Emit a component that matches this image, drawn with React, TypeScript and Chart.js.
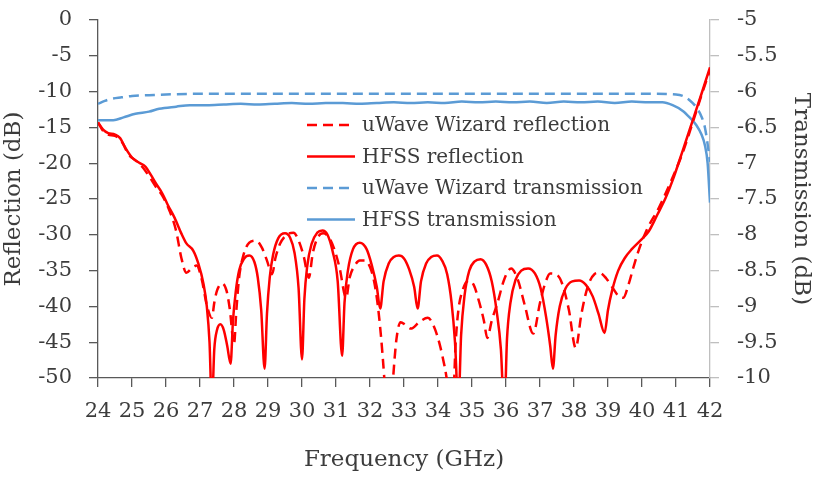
import React, { useEffect, useRef } from 'react';
import { Chart, registerables } from 'chart.js';

Chart.register(...registerables);

// ---- Tick labels ----
const xTickValues = [24, 25, 26, 27, 28, 29, 30, 31, 32, 33, 34, 35, 36, 37, 38, 39, 40, 41, 42];
const leftTickValues = [0, -5, -10, -15, -20, -25, -30, -35, -40, -45, -50];
const rightTickValues = [-5, -5.5, -6, -6.5, -7, -7.5, -8, -8.5, -9, -9.5, -10];

// ---- Series labels ----
const seriesLabels = [
  'uWave Wizard reflection',
  'HFSS reflection',
  'uWave Wizard transmission',
  'HFSS transmission',
];

// ---- uWave Wizard reflection (dB, left axis) ----
const uwReflFreq = [
  24.0, 24.15, 24.3, 24.5, 24.7, 24.9, 25.1, 25.3, 25.5, 25.7, 25.9, 26.1, 26.3, 26.45, 26.6, 26.75, 26.9,
  27.05, 27.2, 27.35, 27.42, 27.5, 27.65, 27.78, 27.88, 28.0, 28.07, 28.15, 28.28, 28.45, 28.65, 28.82, 28.97,
  29.12, 29.22, 29.35, 29.55, 29.75, 29.9, 30.05, 30.2, 30.32, 30.45, 30.62, 30.8, 30.95, 31.1, 31.3, 31.4,
  31.55, 31.7, 31.85, 32.0, 32.12, 32.22, 32.32, 32.42, 32.5, 32.6, 32.68, 32.78, 32.9, 33.05, 33.2, 33.45,
  33.7, 33.88, 34.05, 34.2, 34.35, 34.45, 34.52, 34.6, 34.72, 34.9, 35.05, 35.2, 35.35, 35.45, 35.58, 35.75,
  35.95, 36.15, 36.35, 36.55, 36.8, 37.0, 37.15, 37.3, 37.5, 37.65, 37.85, 38.05, 38.22, 38.4, 38.6, 38.75,
  38.95, 39.15, 39.3, 39.45, 39.6, 39.75, 39.9, 40.15, 40.5, 40.9, 41.2, 41.5, 41.75, 42.0,
];
const uwReflDb = [
  -14.3, -15.5, -16.0, -16.2, -17.0, -18.8, -19.6, -20.5, -21.8, -23.3, -24.6, -26.6, -29.5, -33.2, -35.3, -34.7, -34.3,
  -36.2, -39.8, -41.6, -39.5, -37.8, -36.8, -37.8, -40.5, -45.3, -40.5, -36.0, -32.8, -31.1, -30.8, -31.8, -33.6,
  -35.5, -33.2, -31.3, -30.0, -29.7, -30.8, -33.0, -36.0, -32.5, -30.5, -29.8, -30.4, -32.0, -34.5, -38.8, -36.0,
  -34.3, -33.6, -33.6, -34.5, -36.5, -39.5, -44.0, -50.0, -56.0, -56.0, -50.0, -44.5, -42.2, -42.6, -43.1, -42.2,
  -41.6, -42.8, -45.3, -48.5, -52.0, -52.0, -45.0, -40.5, -37.8, -36.4, -37.0, -39.2, -42.0, -44.4, -42.0, -39.5,
  -36.2, -34.7, -36.3, -39.8, -43.8, -39.5, -36.8, -35.4, -35.6, -36.8, -40.5, -45.8, -41.0, -37.3, -35.5, -35.3,
  -36.1, -37.5, -38.5, -38.8, -37.0, -34.5, -32.2, -29.2, -26.2, -22.0, -18.5, -14.2, -10.5, -7.0,
];

// ---- HFSS reflection (dB, left axis) ----
const hfssReflFreq = [
  24.0, 24.15, 24.3, 24.5, 24.65, 24.8, 25.0, 25.2, 25.4, 25.55, 25.7, 25.9, 26.05, 26.25, 26.45, 26.6, 26.8,
  26.95, 27.1, 27.2, 27.28, 27.35, 27.42, 27.5, 27.6, 27.7, 27.8, 27.9, 27.97, 28.05, 28.15, 28.3, 28.45, 28.6,
  28.7, 28.8, 28.9, 28.97, 29.05, 29.15, 29.3, 29.5, 29.65, 29.78, 29.9, 30.0, 30.07, 30.15, 30.28, 30.45, 30.6,
  30.75, 30.9, 31.05, 31.18, 31.25, 31.35, 31.5, 31.7, 31.9, 32.05, 32.2, 32.3, 32.4, 32.55, 32.7, 32.85, 33.0,
  33.15, 33.3, 33.4, 33.5, 33.65, 33.8, 33.97, 34.12, 34.27, 34.4, 34.5, 34.6, 34.68, 34.78, 34.92, 35.08, 35.25,
  35.42, 35.58, 35.72, 35.85, 35.95, 36.03, 36.13, 36.28, 36.45, 36.65, 36.85, 37.02, 37.18, 37.3, 37.38, 37.46,
  37.58, 37.75, 37.95, 38.15, 38.35, 38.55, 38.72, 38.9, 39.0, 39.12, 39.3, 39.5, 39.7, 39.95, 40.2, 40.45, 40.7,
  40.9, 41.2, 41.5, 41.75, 42.0,
];
const hfssReflDb = [
  -14.3, -15.3, -15.8, -16.0, -16.5, -17.8, -19.2, -19.9, -20.5, -21.6, -22.8, -24.3, -25.8, -27.6, -29.8, -31.2, -32.2,
  -34.0, -36.8, -40.0, -45.0, -54.0, -46.0, -43.3, -42.5, -43.3, -45.5, -48.0, -42.0, -38.0, -35.0, -33.3, -32.9, -33.8,
  -36.0, -40.5, -48.7, -41.0, -36.0, -32.8, -30.5, -29.8, -30.4, -32.5, -37.5, -47.4, -39.0, -34.5, -31.3, -29.7, -29.4,
  -30.0, -32.3, -36.5, -46.9, -39.5, -35.0, -32.0, -31.1, -32.0, -34.2, -37.3, -40.3, -36.5, -34.0, -33.1, -32.9, -33.3,
  -34.8, -37.3, -40.3, -36.5, -34.0, -33.1, -32.9, -33.6, -35.5, -39.5, -45.0, -54.0, -44.0, -38.5, -35.0, -33.7, -33.4,
  -34.2, -36.5, -40.5, -46.0, -55.0, -44.5, -39.5, -36.3, -35.0, -34.7, -35.4, -37.5, -41.5, -45.5, -48.7, -44.0,
  -40.0, -37.5, -36.5, -36.4, -37.0, -38.6, -41.0, -43.7, -40.5, -37.8, -35.0, -33.2, -32.0, -30.8, -29.5, -27.2, -24.8,
  -22.4, -18.2, -13.9, -10.3, -6.6,
];

// ---- uWave Wizard transmission (dB, right axis) ----
const uwTransFreq = [
  24.0, 24.2, 24.4, 24.7, 25.0, 25.5, 26.0, 27.0, 28.0, 30.0, 32.0, 34.0, 36.0, 38.0, 40.0, 41.0, 41.2, 41.4,
  41.6, 41.75, 41.85, 41.92, 42.0,
];
const uwTransDb = [
  -6.17, -6.13, -6.1, -6.08, -6.06, -6.05, -6.04, -6.03, -6.03, -6.03, -6.03, -6.03, -6.03, -6.03, -6.03, -6.04, -6.06, -6.12,
  -6.22, -6.35, -6.5, -6.7, -6.98,
];

// ---- HFSS transmission (dB, right axis) ----
const hfssTransFreq = [
  24.0, 24.2, 24.45, 24.75, 25.1, 25.5, 25.8, 26.3, 26.7, 27.2, 27.7, 28.2, 28.7, 29.2, 29.7, 30.2, 30.7, 31.2,
  31.7, 32.2, 32.7, 33.2, 33.7, 34.2, 34.7, 35.2, 35.7, 36.2, 36.7, 37.2, 37.7, 38.2, 38.7, 39.2, 39.7, 40.2,
  40.6, 40.9, 41.2, 41.4, 41.6, 41.75, 41.85, 41.93, 42.0,
];
const hfssTransDb = [
  -6.4, -6.4, -6.4, -6.36, -6.31, -6.28, -6.24, -6.21, -6.19, -6.19, -6.18, -6.17, -6.18, -6.17, -6.16, -6.17, -6.16, -6.16,
  -6.17, -6.16, -6.15, -6.16, -6.15, -6.16, -6.14, -6.15, -6.14, -6.15, -6.14, -6.16, -6.14, -6.15, -6.14, -6.16, -6.14, -6.15,
  -6.15, -6.19, -6.27, -6.36, -6.47, -6.6, -6.75, -7.0, -7.55,
];

const RED = '#ff0000';
const BLUE = '#5b9bd5';
const TEXT = '#3c3c3c';
const AXIS_DARK = '#595959';
const AXIS_LIGHT = '#bfbfbf';
const FONT = '"DejaVu Serif", serif';

const toPoints = (xs: number[], ys: number[]) => xs.map((x, i) => ({ x, y: ys[i] }));

const noPad = (s: any) => {
  s.paddingTop = 0;
  s.paddingBottom = 0;
  s.paddingLeft = 0;
  s.paddingRight = 0;
};

const insideLegend = {
  id: 'insideLegend',
  afterDatasetsDraw(chart: any) {
    const { ctx, chartArea } = chart;
    ctx.save();
    chart.data.datasets.forEach((ds: any, i: number) => {
      const y = chartArea.top + 105 + i * 31.5;
      const x0 = chartArea.left + 209;
      ctx.strokeStyle = ds.borderColor;
      ctx.lineWidth = ds.borderWidth;
      ctx.setLineDash(ds.borderDash || []);
      ctx.beginPath();
      ctx.moveTo(x0, y);
      ctx.lineTo(x0 + 48, y);
      ctx.stroke();
      ctx.setLineDash([]);
      ctx.fillStyle = TEXT;
      ctx.font = `20px ${FONT}`;
      ctx.textBaseline = 'middle';
      ctx.textAlign = 'left';
      ctx.fillText(ds.label, x0 + 55, y + 1);
    });
    ctx.restore();
  },
};

export default function App() {
  const canvasRef = useRef<HTMLCanvasElement | null>(null);

  useEffect(() => {
    const canvas = canvasRef.current;
    if (!canvas) return;
    Chart.defaults.font.family = FONT;
    Chart.defaults.color = TEXT;

    const chart = new Chart(canvas, {
      type: 'line',
      data: {
        datasets: [
          {
            label: seriesLabels[0],
            data: toPoints(uwReflFreq, uwReflDb),
            borderColor: RED,
            borderWidth: 2.5,
            borderDash: [10, 6],
            yAxisID: 'y',
          },
          {
            label: seriesLabels[1],
            data: toPoints(hfssReflFreq, hfssReflDb),
            borderColor: RED,
            borderWidth: 2.5,
            yAxisID: 'y',
          },
          {
            label: seriesLabels[2],
            data: toPoints(uwTransFreq, uwTransDb),
            borderColor: BLUE,
            borderWidth: 2.5,
            borderDash: [10, 6],
            yAxisID: 'y2',
          },
          {
            label: seriesLabels[3],
            data: toPoints(hfssTransFreq, hfssTransDb),
            borderColor: BLUE,
            borderWidth: 2.5,
            yAxisID: 'y2',
          },
        ] as any,
      },
      options: {
        responsive: false,
        animation: false,
        devicePixelRatio: 1,
        layout: { padding: { top: 20, left: 0, right: 0, bottom: 0 } },
        elements: {
          point: { radius: 0, hoverRadius: 0 },
          line: { cubicInterpolationMode: 'monotone', fill: false },
        },
        plugins: {
          legend: { display: false },
          tooltip: { enabled: false },
        },
        scales: {
          x: {
            type: 'linear',
            min: 24,
            max: 42,
            afterBuildTicks: (s: any) => {
              s.ticks = xTickValues.map((v) => ({ value: v }));
            },
            afterFit: (s: any) => {
              s.height = 100;
              noPad(s);
            },
            ticks: {
              font: { size: 21 },
              color: TEXT,
              padding: 12,
              maxRotation: 0,
              autoSkip: false,
              callback: (v: any) => String(v),
            },
            grid: {
              drawOnChartArea: false,
              drawTicks: true,
              tickLength: 9,
              color: AXIS_DARK,
              lineWidth: 1.3,
            },
            border: { display: true, color: AXIS_DARK, width: 1.3 },
            title: {
              display: true,
              text: 'Frequency (GHz)',
              font: { size: 23 },
              color: TEXT,
              padding: { top: 0, bottom: 4 },
            },
          },
          y: {
            type: 'linear',
            position: 'left',
            min: -50,
            max: 0,
            afterBuildTicks: (s: any) => {
              s.ticks = leftTickValues.map((v) => ({ value: v }));
            },
            afterFit: (s: any) => {
              s.width = 98;
              noPad(s);
            },
            ticks: {
              font: { size: 21 },
              color: TEXT,
              padding: 17,
              autoSkip: false,
              callback: (v: any) => String(v),
            },
            grid: {
              drawOnChartArea: false,
              drawTicks: true,
              tickLength: 9,
              color: AXIS_DARK,
              lineWidth: 1.3,
            },
            border: { display: true, color: AXIS_DARK, width: 1.3 },
            title: {
              display: true,
              text: 'Reflection (dB)',
              font: { size: 23 },
              color: TEXT,
              padding: { top: 0, bottom: 0 },
            },
          },
          y2: {
            type: 'linear',
            position: 'right',
            min: -10,
            max: -5,
            afterBuildTicks: (s: any) => {
              s.ticks = rightTickValues.map((v) => ({ value: v }));
            },
            afterFit: (s: any) => {
              s.width = 105;
              noPad(s);
            },
            ticks: {
              font: { size: 21 },
              color: TEXT,
              padding: 18,
              autoSkip: false,
              callback: (v: any) => String(v),
            },
            grid: {
              drawOnChartArea: false,
              drawTicks: true,
              tickLength: 9,
              color: AXIS_LIGHT,
              lineWidth: 1.3,
            },
            border: { display: true, color: AXIS_LIGHT, width: 1.3 },
            title: {
              display: true,
              text: 'Transmission (dB)',
              font: { size: 23 },
              color: TEXT,
              padding: { top: 0, bottom: 0 },
            },
          },
        },
      } as any,
      plugins: [insideLegend],
    });

    return () => {
      chart.destroy();
    };
  }, []);

  return (
    <div style={{ position: 'absolute', left: 0, top: 0, width: 815, height: 478, background: '#ffffff' }}>
      <canvas ref={canvasRef} width={815} height={478} style={{ display: 'block', width: 815, height: 478 }} />
    </div>
  );
}
